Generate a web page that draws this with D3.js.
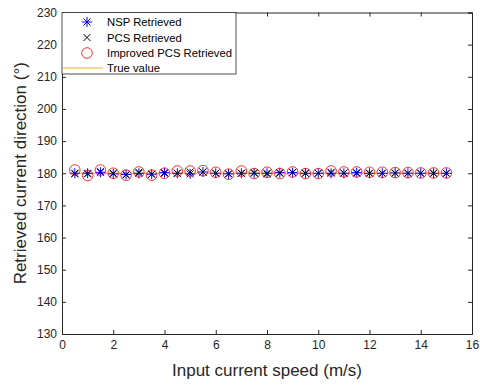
<!DOCTYPE html>
<html><head><meta charset="utf-8">
<script src="https://cdn.jsdelivr.net/npm/d3@7"></script>
<style>body{margin:0;background:#fff}svg{display:block;font-family:"Liberation Sans",Arial,sans-serif}</style>
</head><body><svg id="c" width="480" height="385"></svg>
<script>
const speeds = [0.5,1,1.5,2,2.5,3,3.5,4,4.5,5,5.5,6,6.5,7,7.5,8,8.5,9,9.5,10,10.5,11,11.5,12,12.5,13,13.5,14,14.5,15];
const nspValues = [180,180,180.3,179.8,179.6,180,179.7,180.2,180,179.8,180.4,180,179.8,180,180,180,180.2,180.2,180,180,180,180,180.2,180,180,180.1,180,180,180,180];
const pcsValues = [179.8,179.8,180.5,180,179.5,180.3,179.7,180,180,180.4,180.4,180,179.8,180,180.2,179.8,180,180.3,180,180,180.3,180.1,180,180,180,180,180,180,180,180];
const improvedValues = [181,179.3,181,180,179.4,180.4,179.4,180,180.7,180.7,180.8,180.3,179.7,180.7,179.9,180.3,179.9,180.4,179.9,179.9,180.7,180.4,180.4,180.3,180.3,180.2,180.2,180.1,180.1,180.1];
const trueValue = [180,180];
const trueX = [0.5,15];
const xTicks = [0,2,4,6,8,10,12,14,16];
const yTicks = [130,140,150,160,170,180,190,200,210,220,230];
const legendLabels = ["NSP Retrieved","PCS Retrieved","Improved PCS Retrieved","True value"];

const svg = d3.select("#c");
const L=62, R=472, T=12.5, B=334;
const x = d3.scaleLinear().domain([0,16]).range([L,R]);
const y = d3.scaleLinear().domain([130,230]).range([B,T]);
const axCol="#262626";

svg.append("rect").attr("x",L).attr("y",T).attr("width",R-L).attr("height",B-T).attr("fill","#fff");

svg.append("path").datum(trueX.map((d,i)=>[d,trueValue[i]]))
  .attr("d",d3.line().x(d=>x(d[0])).y(d=>y(d[1])))
  .attr("stroke","#EDB120").attr("stroke-width",1).attr("fill","none");

function asterisk(g,cx,cy,r,col){
  const a=r*0.707;
  const p=`M${cx-r},${cy}L${cx+r},${cy}M${cx},${cy-r}L${cx},${cy+r}M${cx-a},${cy-a}L${cx+a},${cy+a}M${cx-a},${cy+a}L${cx+a},${cy-a}`;
  g.append("path").attr("d",p).attr("stroke",col).attr("stroke-width",1).attr("fill","none");
}
function cross(g,cx,cy,r,col){
  const p=`M${cx-r},${cy-r}L${cx+r},${cy+r}M${cx-r},${cy+r}L${cx+r},${cy-r}`;
  g.append("path").attr("d",p).attr("stroke",col).attr("stroke-width",1).attr("fill","none");
}
const gm = svg.append("g");
speeds.forEach((s,i)=>asterisk(gm,x(s),y(nspValues[i]),5,"#0000ff"));
speeds.forEach((s,i)=>cross(gm,x(s),y(pcsValues[i]),3.5,"#000"));
gm.selectAll("circle").data(speeds).join("circle")
  .attr("cx",d=>x(d)).attr("cy",(d,i)=>y(improvedValues[i])).attr("r",5.3)
  .attr("fill","none").attr("stroke","#ff0000").attr("stroke-width",0.8);

const xa = svg.append("g").attr("transform",`translate(0,${B})`)
  .call(d3.axisBottom(x).tickValues(xTicks).tickSize(-4).tickPadding(6).tickFormat(d3.format("d")));
const ya = svg.append("g").attr("transform",`translate(${L},0)`)
  .call(d3.axisLeft(y).tickValues(yTicks).tickSize(-4).tickPadding(5).tickFormat(d3.format("d")));
const xt = svg.append("g").attr("transform",`translate(0,${T})`)
  .call(d3.axisTop(x).tickValues(xTicks).tickSize(-4).tickFormat(""));
const yr = svg.append("g").attr("transform",`translate(${R},0)`)
  .call(d3.axisRight(y).tickValues(yTicks).tickSize(-4).tickFormat(""));
[xa,ya,xt,yr].forEach(g=>{
  g.select(".domain").attr("stroke",axCol).attr("stroke-width",1);
  g.selectAll(".tick line").attr("stroke",axCol);
  g.selectAll("text").attr("fill",axCol).attr("font-size",12).attr("font-family","Liberation Sans, Arial, sans-serif");
});

svg.append("text").attr("x",(L+R)/2).attr("y",376).attr("text-anchor","middle")
  .attr("font-size",17).attr("fill",axCol).text("Input current speed (m/s)");
svg.append("text").attr("transform",`translate(26,${(T+B)/2}) rotate(-90)`).attr("text-anchor","middle")
  .attr("font-size",17).attr("fill",axCol).text("Retrieved current direction (°)");

const lg = svg.append("g");
lg.append("rect").attr("x",L).attr("y",T).attr("width",236-L).attr("height",74-T)
  .attr("fill","#fff").attr("stroke",axCol).attr("stroke-width",0.8);
const ly=[22,37.5,53,68];
asterisk(lg,87,ly[0],5,"#0000ff");
cross(lg,87,ly[1],3.5,"#000");
lg.append("circle").attr("cx",87).attr("cy",ly[2]).attr("r",5.3).attr("fill","none").attr("stroke","#ff0000").attr("stroke-width",0.8);
lg.append("line").attr("x1",63).attr("x2",103).attr("y1",ly[3]).attr("y2",ly[3]).attr("stroke","#EDB120").attr("stroke-width",1);
legendLabels.forEach((t,i)=>lg.append("text").attr("x",107).attr("y",ly[i]+4).attr("font-size",11.3).attr("fill","#000").text(t));
</script></body></html>
